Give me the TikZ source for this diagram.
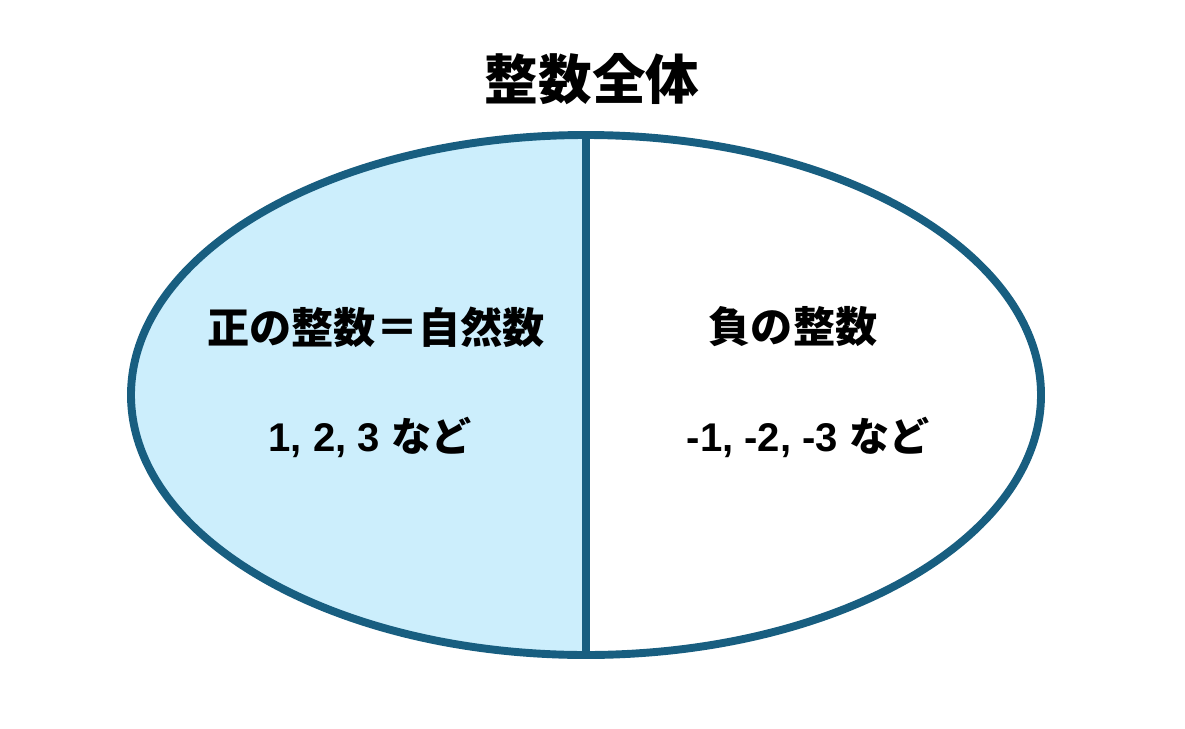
\documentclass[tikz,border=0pt]{standalone}
\usepackage{fontspec}
\setmainfont{Liberation Sans}
\newfontfamily\jp{Noto Sans CJK JP}
\definecolor{rimblue}{RGB}{24,94,128}
\definecolor{posblue}{RGB}{204,238,252}

\begin{document}
\begin{tikzpicture}[x=0.02cm,y=0.02cm]
		\tikzset{rim/.style = {draw=rimblue, line width=4.5pt}}
		\tikzset{label/.style = {inner sep=0pt, font=\bfseries\fontsize{24}{28}\selectfont}}
		\tikzset{example/.style = {inner sep=0pt, font=\bfseries\fontsize{22.8}{26}\selectfont}}

		\useasboundingbox (0,0) rectangle (1185,728);

		\coordinate (top) at (586,593);
		\coordinate (bottom) at (586,73);

		\fill[posblue] (top) arc (90:270:455 and 260) -- cycle;
		\draw[rim] (586,333) ellipse (455 and 260);
		\draw[rim] (top) -- (bottom);

		\node[inner sep=0pt, font=\bfseries\fontsize{30.5}{34}\selectfont] (whole) at (592,649) {\jp 整数全体};

		\node[label] (pos) at (376,401) {\jp 正の整数＝自然数};
		\node[example] (posex) at (370,291) {1, 2, 3 {\jp など}};

		\node[label] (neg) at (793,401) {\jp 負の整数};
		\node[example] (negex) at (808,291) {-1, -2, -3 {\jp など}};

	\end{tikzpicture}
\end{document}
